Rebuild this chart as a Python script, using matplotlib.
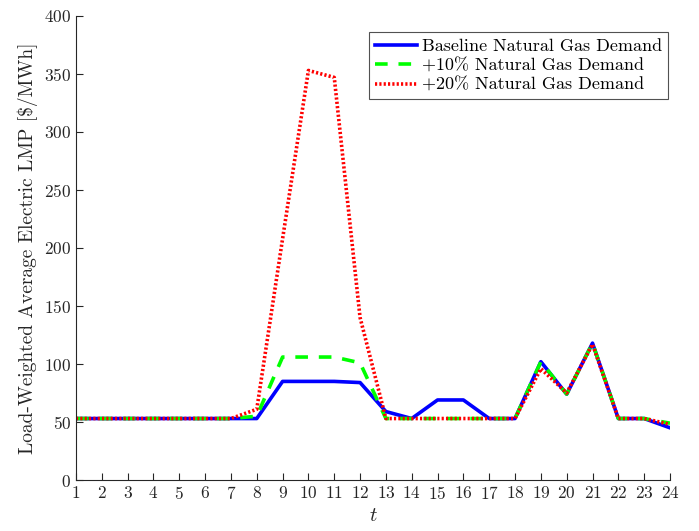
import matplotlib
matplotlib.use("Agg")
import matplotlib.pyplot as plt

plt.rcParams['font.family'] = ['cmr10', 'DejaVu Serif']
plt.rcParams['mathtext.fontset'] = 'cm'
plt.rcParams['axes.formatter.use_mathtext'] = True

t = list(range(1, 25))
baseline = [53, 53, 53, 53, 53, 53, 53, 53, 85, 85, 85, 84, 59, 53, 69, 69, 53, 53, 102, 74, 118, 53, 53, 45]
plus10 = [53, 53, 53, 53, 53, 53, 53, 55, 106, 106, 106, 101, 53, 53, 53, 53, 53, 53, 102, 74, 118, 53, 53, 49]
plus20 = [53, 53, 53, 53, 53, 53, 53, 61, 208, 353, 347, 140, 53, 53, 53, 53, 53, 53, 96, 75, 117, 53, 53, 48]
labels = ['Baseline Natural Gas Demand', '+10% Natural Gas Demand', '+20% Natural Gas Demand']

fig = plt.figure(figsize=(6.99, 5.31), dpi=100)
ax = fig.add_axes([0.1087, 0.096, 0.8498, 0.874])

ax.plot(t, baseline, color='#0000ff', lw=2.6, ls='-', label=labels[0])
ax.plot(t, plus10, color='#00ff00', lw=2.6, ls=(0, (3.5, 3)), label=labels[1])
ax.plot(t, plus20, color='#ff0000', lw=2.6, ls=(0, (0.6, 0.6)), label=labels[2])

ax.set_xlim(1, 24)
ax.set_ylim(0, 400)
ax.set_xticks(t)
ax.set_yticks(range(0, 401, 50))

for s in ['top', 'right']:
    ax.spines[s].set_visible(False)
for s in ['left', 'bottom']:
    ax.spines[s].set_color('#262626')
    ax.spines[s].set_linewidth(0.8)
ax.tick_params(direction='in', length=5, width=0.8, colors='#262626', labelsize=12.5, labelcolor='#262626')

ax.set_xlabel('$t$', fontsize=15, color='#262626')
ax.set_ylabel('Load-Weighted Average Electric LMP [\\$/MWh]', fontsize=14, color='#262626')

leg = ax.legend(loc='upper right', bbox_to_anchor=(0.9966, 0.9655), fontsize=13, frameon=True, fancybox=False,
                edgecolor='#262626', handlelength=2.3, handletextpad=0.25, borderpad=0.35, labelspacing=0.22,
                borderaxespad=0.0)
leg.get_frame().set_linewidth(0.8)

fig.savefig('out.png', dpi=100)
